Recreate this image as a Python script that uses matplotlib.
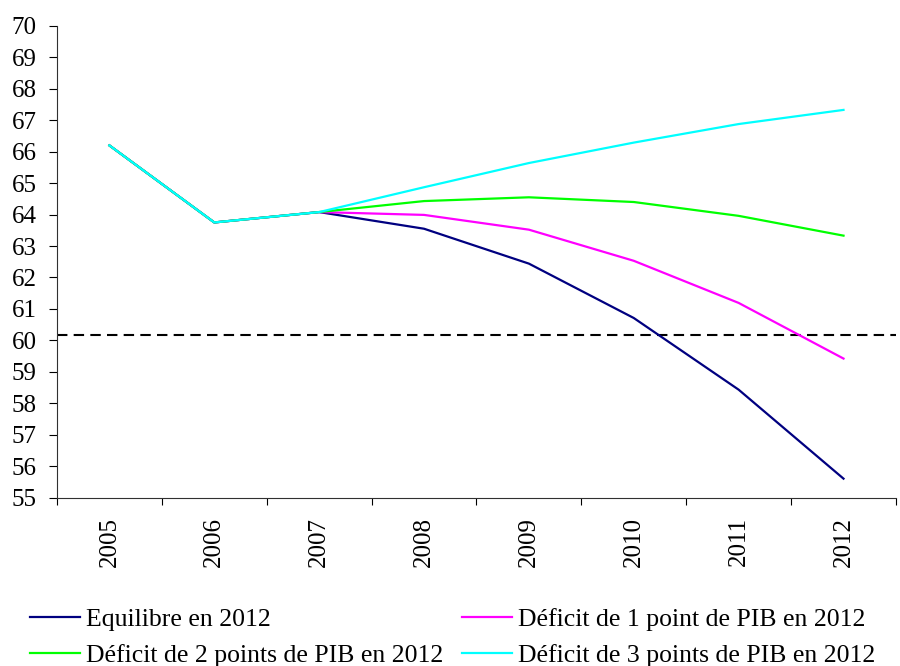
import matplotlib.pyplot as plt
import numpy as np

plt.rcParams['font.family'] = ['Liberation Serif', 'DejaVu Serif']

# Data
years = ['2005', '2006', '2007', '2008', '2009', '2010', '2011', '2012']
equilibre = [66.2, 63.75, 64.08, 63.55, 62.44, 60.71, 58.43, 55.6]
deficit_1 = [66.2, 63.75, 64.08, 63.99, 63.52, 62.53, 61.19, 59.42]
deficit_2 = [66.2, 63.75, 64.08, 64.43, 64.55, 64.40, 63.96, 63.33]
deficit_3 = [66.2, 63.75, 64.08, 64.87, 65.64, 66.29, 66.88, 67.33]
seuil = 60.17

labels = ['Equilibre en 2012',
          'Déficit de 1 point de PIB en 2012',
          'Déficit de 2 points de PIB en 2012',
          'Déficit de 3 points de PIB en 2012']
colors = ['#000080', '#FF00FF', '#00FF00', '#00FFFF']

fig = plt.figure(figsize=(9, 6.66), dpi=100)
ax = fig.add_axes([0.0633, 0.253, 0.9322, 0.708])

x = np.arange(len(years))
ax.axhline(seuil, color='black', lw=1.5, ls=(0, (5, 3)), zorder=1)

handles = []
for series, lab, col in zip([equilibre, deficit_1, deficit_2, deficit_3], labels, colors):
    h, = ax.plot(x, series, color=col, lw=1.6, label=lab, zorder=2)
    handles.append(h)

ax.set_xlim(-0.5, len(years) - 0.5)
ax.set_ylim(55, 70)
ax.set_yticks(range(55, 71))
ax.tick_params(axis='y', direction='out', length=5.5, width=0.8, labelsize=18, pad=9)

# category boundaries get the tick marks, centers get the labels
ax.set_xticks(np.arange(-0.5, len(years)), minor=False)
ax.set_xticklabels([])
ax.set_xticks(x, minor=True)
ax.set_xticklabels(years, minor=True, rotation=90, fontsize=18)
ax.tick_params(axis='x', which='major', direction='out', length=5, width=0.8)
ax.tick_params(axis='x', which='minor', length=0, pad=14)

for side in ['top', 'right']:
    ax.spines[side].set_visible(False)
for side in ['left', 'bottom']:
    ax.spines[side].set_color('#303030')
    ax.spines[side].set_linewidth(0.8)

order = [0, 2, 1, 3]
fig.legend([handles[i] for i in order], [labels[i] for i in order],
           ncol=2, loc='upper left', bbox_to_anchor=(0.0333, 0.0875),
           frameon=False, fontsize=18.5, handlelength=1.95, handletextpad=0.23,
           columnspacing=0.72, labelspacing=0.53, borderpad=0, borderaxespad=0)

fig.savefig('out.png', dpi=100)
